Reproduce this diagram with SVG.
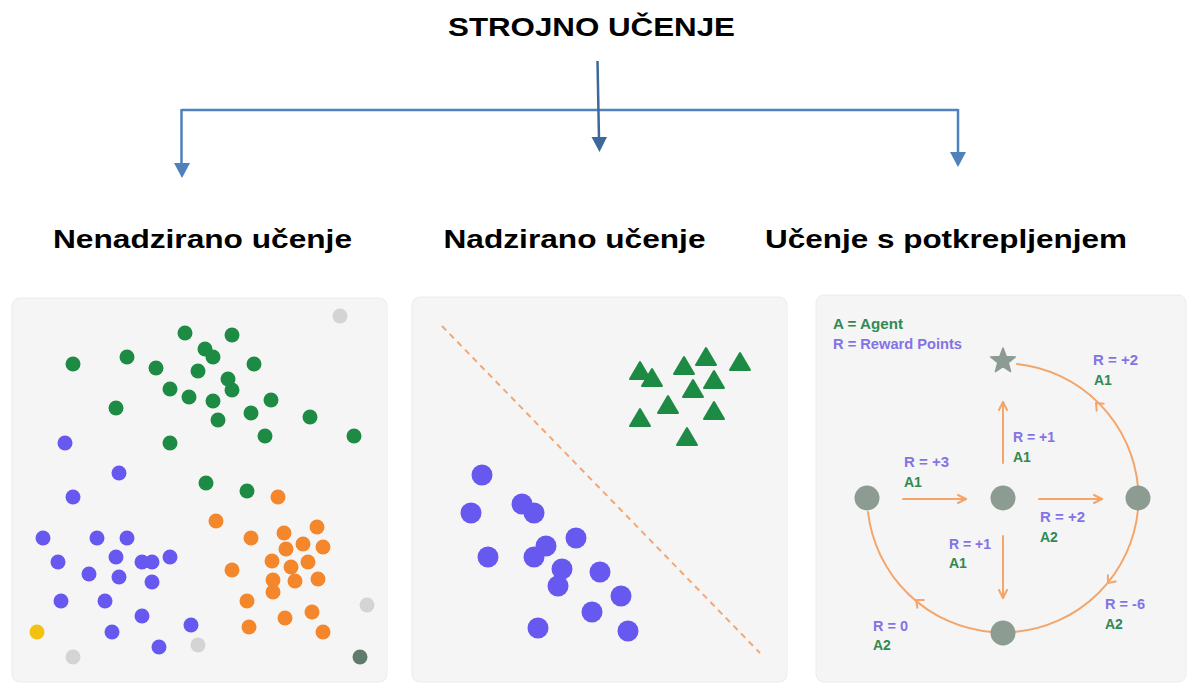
<svg xmlns="http://www.w3.org/2000/svg" width="1188" height="684" viewBox="0 0 1188 684">
<style>
.title{font-family:"Liberation Sans",Arial,sans-serif;font-weight:bold;fill:#000}
.panel{fill:#f5f5f5;stroke:#ececec;stroke-width:1}
.g{fill:#1e8b45}
.p{fill:#6758f0}
.o{fill:#f4862c}
.lg{fill:#d4d4d4}
.node{fill:#8c9c92}
.conn{stroke:#4f81bd;stroke-width:2.5;fill:none}
.oarr{stroke:#f3a56a;stroke-width:2;fill:none;stroke-linecap:round;stroke-linejoin:round}
.lbl{font-family:"Liberation Sans",Arial,sans-serif;font-weight:bold;font-size:14px}
.rp{fill:#8273e6}
.ag{fill:#2f8a52}
</style>
<defs>
<marker id="chev" viewBox="0 0 10 10" refX="9" refY="5" markerWidth="10" markerHeight="10" markerUnits="userSpaceOnUse" orient="auto">
<path d="M1,1 L9,5 L1,9" fill="none" stroke="#f3a56a" stroke-width="2" stroke-linecap="round" stroke-linejoin="round"/>
</marker>
<path id="tri" d="M0,-10 L10,7 L-10,7 Z" fill="#1e8b45" stroke="#1e8b45" stroke-width="2" stroke-linejoin="round"/>
</defs>
<rect width="1188" height="684" fill="#ffffff"/>

<g id="title">
<text class="title" x="591.5" y="36" font-size="26.5" text-anchor="middle" textLength="287" lengthAdjust="spacingAndGlyphs">STROJNO UČENJE</text>
</g>

<g id="connectors">
<line class="conn" x1="181.5" y1="110" x2="958" y2="110"/>
<line class="conn" x1="181.5" y1="109" x2="181.5" y2="165"/>
<polygon points="174,163 190,163 182,178" fill="#4f81bd"/>
<line class="conn" x1="958" y1="109" x2="958" y2="154"/>
<polygon points="950,152 966,152 958,167" fill="#4f81bd"/>
<line x1="597.5" y1="61" x2="599" y2="139" stroke="#3d689c" stroke-width="2.5"/>
<polygon points="591.5,137 607,137 599.5,152" fill="#3d689c"/>
</g>

<g id="heading-unsupervised">
<text class="title" x="202.5" y="248" font-size="26" text-anchor="middle" textLength="299" lengthAdjust="spacingAndGlyphs">Nenadzirano učenje</text>
</g>
<g id="heading-supervised">
<text class="title" x="574.5" y="248" font-size="26" text-anchor="middle" textLength="262" lengthAdjust="spacingAndGlyphs">Nadzirano učenje</text>
</g>
<g id="heading-reinforcement">
<text class="title" x="946" y="248" font-size="26" text-anchor="middle" textLength="362" lengthAdjust="spacingAndGlyphs">Učenje s potkrepljenjem</text>
</g>

<g id="panel-unsupervised">
<rect class="panel" x="12" y="298" width="375" height="384" rx="8"/>
<g class="g">
<circle cx="185" cy="333" r="7.5"/><circle cx="232" cy="335" r="7.5"/><circle cx="205" cy="349" r="7.5"/><circle cx="213" cy="357" r="7.5"/>
<circle cx="127" cy="357" r="7.5"/><circle cx="73" cy="364" r="7.5"/><circle cx="156" cy="368" r="7.5"/><circle cx="198" cy="371" r="7.5"/>
<circle cx="254" cy="364" r="7.5"/><circle cx="232" cy="390" r="7.5"/><circle cx="228" cy="379" r="7.5"/><circle cx="170" cy="389" r="7.5"/>
<circle cx="189" cy="397" r="7.5"/><circle cx="213" cy="401" r="7.5"/><circle cx="271" cy="400" r="7.5"/><circle cx="116" cy="408" r="7.5"/>
<circle cx="251" cy="413" r="7.5"/><circle cx="218" cy="420" r="7.5"/><circle cx="310" cy="417" r="7.5"/><circle cx="265" cy="436" r="7.5"/>
<circle cx="354" cy="436" r="7.5"/><circle cx="170" cy="443" r="7.5"/><circle cx="206" cy="483" r="7.5"/><circle cx="247" cy="491" r="7.5"/>
</g>
<g class="p">
<circle cx="65" cy="443" r="7.5"/><circle cx="119" cy="473" r="7.5"/><circle cx="73" cy="497" r="7.5"/><circle cx="43" cy="538" r="7.5"/>
<circle cx="97" cy="538" r="7.5"/><circle cx="127" cy="538" r="7.5"/><circle cx="58" cy="562" r="7.5"/><circle cx="116" cy="557" r="7.5"/>
<circle cx="142" cy="562" r="7.5"/><circle cx="152" cy="562" r="7.5"/><circle cx="170" cy="557" r="7.5"/><circle cx="89" cy="574" r="7.5"/>
<circle cx="119" cy="577" r="7.5"/><circle cx="152" cy="582" r="7.5"/><circle cx="61" cy="601" r="7.5"/><circle cx="105" cy="601" r="7.5"/>
<circle cx="142" cy="616" r="7.5"/><circle cx="191" cy="625" r="7.5"/><circle cx="112" cy="632" r="7.5"/><circle cx="159" cy="647" r="7.5"/>
</g>
<g class="o">
<circle cx="278" cy="497" r="7.5"/><circle cx="216" cy="521" r="7.5"/><circle cx="317" cy="527" r="7.5"/><circle cx="284" cy="533" r="7.5"/>
<circle cx="251" cy="538" r="7.5"/><circle cx="303" cy="544" r="7.5"/><circle cx="323" cy="547" r="7.5"/><circle cx="286" cy="549" r="7.5"/>
<circle cx="272" cy="561" r="7.5"/><circle cx="308" cy="562" r="7.5"/><circle cx="232" cy="570" r="7.5"/><circle cx="291" cy="567" r="7.5"/>
<circle cx="273" cy="592" r="7.5"/><circle cx="273" cy="580" r="7.5"/><circle cx="295" cy="581" r="7.5"/><circle cx="318" cy="579" r="7.5"/>
<circle cx="247" cy="601" r="7.5"/><circle cx="312" cy="612" r="7.5"/><circle cx="285" cy="618" r="7.5"/><circle cx="249" cy="627" r="7.5"/>
<circle cx="323" cy="632" r="7.5"/>
</g>
<g class="lg">
<circle cx="340" cy="316" r="7.5"/><circle cx="367" cy="605" r="7.5"/><circle cx="198" cy="645" r="7.5"/><circle cx="73" cy="657" r="7.5"/>
</g>
<circle cx="360" cy="657" r="7.5" fill="#5f7b6d"/>
<circle cx="37" cy="632" r="7.5" fill="#f1c20f"/>
</g>

<g id="panel-supervised">
<rect class="panel" x="412" y="297" width="375" height="385" rx="8"/>
<line x1="442" y1="326" x2="760" y2="653" stroke="#f2a774" stroke-width="2" stroke-dasharray="6 5"/>
<use href="#tri" x="640" y="372"/><use href="#tri" x="652" y="379"/><use href="#tri" x="684" y="367"/><use href="#tri" x="706" y="358"/>
<use href="#tri" x="740" y="363"/><use href="#tri" x="714" y="381"/><use href="#tri" x="693" y="390"/><use href="#tri" x="668" y="406"/>
<use href="#tri" x="640" y="419"/><use href="#tri" x="714" y="412"/><use href="#tri" x="687" y="438"/>
<g class="p">
<circle cx="482" cy="475" r="10.5"/><circle cx="471" cy="513" r="10.5"/><circle cx="522" cy="504" r="10.5"/><circle cx="534" cy="513" r="10.5"/>
<circle cx="576" cy="538" r="10.5"/><circle cx="546" cy="546" r="10.5"/><circle cx="488" cy="557" r="10.5"/><circle cx="534" cy="557" r="10.5"/>
<circle cx="558" cy="586" r="10.5"/><circle cx="562" cy="569" r="10.5"/><circle cx="600" cy="572" r="10.5"/><circle cx="621" cy="596" r="10.5"/>
<circle cx="592" cy="612" r="10.5"/><circle cx="538" cy="628" r="10.5"/><circle cx="628" cy="631" r="10.5"/>
</g>
</g>

<g id="panel-reinforcement">
<rect class="panel" x="816" y="295" width="370" height="387" rx="8"/>
<text class="lbl ag" x="833" y="329" textLength="70" lengthAdjust="spacingAndGlyphs">A = Agent</text>
<text class="lbl rp" x="833" y="349" textLength="129" lengthAdjust="spacingAndGlyphs">R = Reward Points</text>
<g id="arcs">
<path class="oarr" d="M1017,364 A136,136 0 0 1 1138,487"/>
<path class="oarr" d="M1138,510 A136,136 0 0 1 1014,632"/>
<path class="oarr" d="M992,632 A136,136 0 0 1 868,512"/>
<polyline class="oarr" points="1103.7,403.7 1096,403 1096.7,410.7"/>
<polyline class="oarr" points="1115.7,581.4 1108,583 1107.9,575.2"/>
<polyline class="oarr" points="923.8,600.1 916,600 917.4,607.7"/>
<line class="oarr" x1="903" y1="499" x2="966" y2="499" marker-end="url(#chev)"/>
<line class="oarr" x1="1039" y1="499" x2="1102" y2="499" marker-end="url(#chev)"/>
<line class="oarr" x1="1003" y1="463" x2="1003" y2="402" marker-end="url(#chev)"/>
<line class="oarr" x1="1003" y1="536" x2="1003" y2="598" marker-end="url(#chev)"/>
</g>
<g id="rl-nodes">
<circle class="node" cx="867" cy="498" r="12.5"/>
<circle class="node" cx="1003" cy="498" r="12.5"/>
<circle class="node" cx="1138" cy="498" r="12.5"/>
<circle class="node" cx="1003" cy="633" r="12.5"/>
<path class="node" d="M1003,348 L1006.2,356.6 L1015.4,357 L1008.2,362.7 L1010.6,371.5 L1003,366.5 L995.4,371.5 L997.8,362.7 L990.6,357 L999.8,356.6 Z" stroke="#8c9c92" stroke-width="1.5" stroke-linejoin="round"/>
</g>
<g id="rl-labels">
<text class="lbl rp" x="1093" y="365" textLength="45" lengthAdjust="spacingAndGlyphs">R = +2</text>
<text class="lbl ag" x="1094" y="385">A1</text>
<text class="lbl rp" x="1013" y="442" textLength="42" lengthAdjust="spacingAndGlyphs">R = +1</text>
<text class="lbl ag" x="1013" y="462">A1</text>
<text class="lbl rp" x="904" y="467" textLength="45" lengthAdjust="spacingAndGlyphs">R = +3</text>
<text class="lbl ag" x="904" y="487">A1</text>
<text class="lbl rp" x="1040" y="522" textLength="45" lengthAdjust="spacingAndGlyphs">R = +2</text>
<text class="lbl ag" x="1040" y="542">A2</text>
<text class="lbl rp" x="949" y="549" textLength="42" lengthAdjust="spacingAndGlyphs">R = +1</text>
<text class="lbl ag" x="949" y="568">A1</text>
<text class="lbl rp" x="1105" y="609" textLength="40" lengthAdjust="spacingAndGlyphs">R = -6</text>
<text class="lbl ag" x="1105" y="629">A2</text>
<text class="lbl rp" x="873" y="631" textLength="35" lengthAdjust="spacingAndGlyphs">R = 0</text>
<text class="lbl ag" x="873" y="650">A2</text>
</g>
</g>
</svg>
